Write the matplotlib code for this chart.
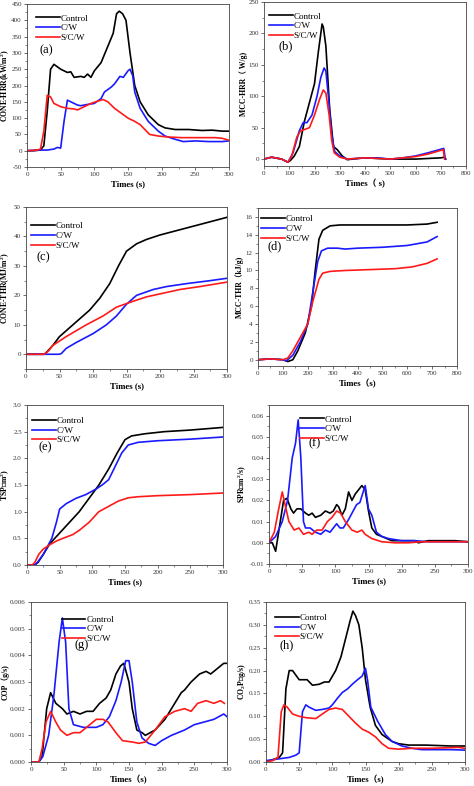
import matplotlib
matplotlib.use("Agg")
import matplotlib.pyplot as plt
from matplotlib.ticker import MultipleLocator, FormatStrFormatter, AutoMinorLocator

plt.rcParams['font.family'] = ['Liberation Serif', 'Noto Sans CJK SC']
plt.rcParams['mathtext.fontset'] = 'custom'
plt.rcParams['mathtext.rm'] = 'Liberation Serif'
plt.rcParams['mathtext.bf'] = 'Liberation Serif:bold'

W, H = 474, 786
LABELS = ['Control', 'C/W', 'S/C/W']
COLORS = ['black', '#1a1aff', '#ff1a1a']

# --- (a) CONE-HRR ---
a_ctrl_x = [0, 10, 20, 25, 30, 35, 40, 50, 60, 65, 70, 80, 85, 90, 95, 100, 110, 120, 128, 133, 137, 142, 147, 153, 160, 168, 180, 195, 205, 220, 240, 260, 275, 290, 300]
a_ctrl_y = [0, 0, 2, 15, 120, 250, 265, 250, 240, 242, 225, 228, 225, 235, 225, 245, 270, 320, 360, 420, 428, 420, 400, 300, 200, 150, 110, 80, 70, 65, 65, 62, 63, 60, 60]
a_cw_x = [0, 20, 30, 40, 45, 50, 55, 60, 65, 75, 80, 90, 100, 110, 115, 125, 130, 138, 143, 150, 153, 157, 160, 168, 180, 195, 205, 220, 232, 250, 270, 290, 300]
a_cw_y = [0, 2, 2, 5, 10, 8, 90, 155, 150, 140, 138, 142, 145, 160, 180, 195, 205, 228, 225, 245, 250, 230, 180, 130, 90, 60, 45, 35, 28, 30, 28, 28, 30]
a_scw_x = [0, 15, 20, 25, 30, 35, 40, 50, 60, 70, 75, 85, 95, 105, 113, 120, 130, 140, 150, 160, 168, 175, 182, 195, 210, 230, 260, 280, 290, 300]
a_scw_y = [0, 2, 5, 60, 170, 165, 145, 135, 130, 128, 125, 135, 145, 152, 157, 150, 130, 115, 100, 90, 80, 65, 50, 45, 42, 40, 40, 40, 38, 32]

# --- (b) MCC-HRR ---
b_ctrl_x = [0, 30, 70, 95, 105, 120, 140, 160, 180, 200, 215, 230, 235, 245, 260, 275, 290, 310, 330, 350, 400, 450, 500, 600, 700, 715, 720]
b_ctrl_y = [0, 3, 0, -5, -2, 5, 20, 60, 90, 120, 170, 215, 210, 180, 80, 20, 15, 5, -1, 0, 2, 1, 0, 0, 2, 3, 0]
b_cw_x = [0, 30, 70, 95, 115, 140, 155, 170, 190, 210, 225, 238, 245, 255, 268, 280, 300, 330, 400, 450, 500, 550, 600, 650, 712, 718]
b_cw_y = [0, 3, 0, -5, 10, 45, 58, 58, 70, 100, 130, 145, 140, 100, 40, 12, 5, 0, 2, 2, 0, 2, 5, 10, 17, 0]
b_scw_x = [0, 30, 70, 95, 110, 130, 145, 160, 180, 200, 220, 235, 245, 258, 268, 278, 300, 330, 400, 450, 500, 550, 600, 650, 710, 715]
b_scw_y = [0, 3, 0, -5, 5, 35, 45, 47, 50, 70, 95, 110, 105, 70, 30, 10, 3, 0, 2, 1, 0, 2, 4, 8, 15, 0]

# --- (c) CONE-THR ---
c_ctrl_x = [0, 27, 30, 40, 50, 70, 95, 110, 125, 138, 150, 165, 180, 200, 225, 250, 275, 300]
c_ctrl_y = [0, 0, 0.5, 3, 6, 10, 15, 19, 24, 30, 35, 37.5, 39, 40.5, 42, 43.5, 45, 46.5]
c_cw_x = [0, 50, 53, 60, 75, 100, 120, 135, 150, 165, 190, 210, 240, 275, 300]
c_cw_y = [0, 0, 0.3, 2, 4, 7, 10, 13, 17, 20, 22, 23, 24, 25, 25.8]
c_scw_x = [0, 27, 33, 40, 60, 90, 115, 135, 160, 180, 200, 230, 260, 300]
c_scw_y = [0, 0, 1, 3, 6, 10, 13, 16, 18, 19.5, 20.5, 22, 23, 24.5]

# --- (d) MCC-THR ---
d_ctrl_x = [0, 50, 100, 120, 140, 160, 190, 215, 230, 245, 260, 290, 330, 400, 500, 600, 680, 720]
d_ctrl_y = [0, 0.1, 0, -0.2, 0, 1, 3, 6, 10, 13.5, 14.5, 15, 15.1, 15.1, 15.1, 15.1, 15.2, 15.4]
d_cw_x = [0, 50, 100, 115, 140, 170, 200, 220, 240, 255, 280, 320, 350, 400, 500, 600, 680, 720]
d_cw_y = [0, 0.1, 0, -0.1, 0.5, 2, 4, 7.5, 11, 12.2, 12.5, 12.5, 12.4, 12.5, 12.6, 12.8, 13.2, 13.8]
d_scw_x = [0, 50, 100, 120, 140, 170, 200, 220, 245, 260, 290, 350, 450, 550, 620, 680, 720]
d_scw_y = [0, 0.1, 0, 0.2, 1, 2.5, 4, 6.5, 9, 9.7, 9.9, 10, 10.1, 10.2, 10.4, 10.8, 11.3]

# --- (e) TSP ---
e_ctrl_x = [0, 12, 17, 25, 35, 50, 65, 80, 95, 110, 125, 138, 150, 160, 180, 210, 250, 300]
e_ctrl_y = [0, 0, 0.05, 0.2, 0.4, 0.6, 0.8, 1.0, 1.25, 1.5, 1.8, 2.1, 2.35, 2.42, 2.46, 2.5, 2.53, 2.58]
e_cw_x = [0, 12, 16, 25, 38, 45, 50, 60, 75, 90, 105, 115, 125, 135, 145, 155, 170, 200, 250, 300]
e_cw_y = [0, 0, 0.05, 0.2, 0.5, 0.8, 1.05, 1.15, 1.25, 1.32, 1.42, 1.5, 1.6, 1.85, 2.1, 2.25, 2.3, 2.33, 2.36, 2.4]
e_scw_x = [0, 8, 12, 18, 25, 35, 45, 55, 70, 80, 95, 110, 125, 140, 155, 170, 200, 250, 300]
e_scw_y = [0, 0, 0.05, 0.2, 0.3, 0.38, 0.45, 0.5, 0.57, 0.65, 0.8, 1.0, 1.1, 1.2, 1.26, 1.28, 1.3, 1.32, 1.35]

# --- (f) SPR ---
f_ctrl_x = [0, 5, 10, 17, 22, 27, 33, 37, 42, 48, 55, 60, 65, 70, 78, 85, 92, 97, 102, 105, 110, 115, 120, 125, 130, 140, 145, 150, 155, 162, 170, 185, 200, 220, 225, 240, 260, 280, 300]
f_ctrl_y = [0, 0, -0.004, 0.01, 0.02, 0.021, 0.016, 0.014, 0.016, 0.016, 0.014, 0.013, 0.014, 0.012, 0.013, 0.015, 0.014, 0.015, 0.018, 0.017, 0.013, 0.016, 0.024, 0.020, 0.023, 0.027, 0.025, 0.015, 0.007, 0.004, 0.003, 0.001, 0.001, 0.001, 0.0, 0.001, 0.001, 0.001, 0.0005]
f_cw_x = [0, 10, 20, 28, 35, 40, 44, 48, 52, 55, 62, 70, 78, 85, 92, 102, 107, 112, 120, 132, 137, 145, 150, 155, 162, 170, 180, 200, 220, 240, 260, 280, 300]
f_cw_y = [0, 0.003, 0.01, 0.02, 0.04, 0.047, 0.058, 0.04, 0.01, 0.007, 0.007, 0.005, 0.004, 0.006, 0.005, 0.009, 0.007, 0.007, 0.011, 0.018, 0.019, 0.027, 0.016, 0.013, 0.005, 0.003, 0.002, 0.001, 0.001, 0.0005, 0.0005, 0.0005, 0.0005]
f_scw_x = [0, 8, 14, 20, 25, 30, 38, 45, 52, 60, 65, 72, 80, 88, 95, 102, 108, 115, 125, 133, 140, 145, 155, 170, 190, 210, 230, 250, 270, 290, 300]
f_scw_y = [0, 0.005, 0.015, 0.024, 0.017, 0.01, 0.006, 0.007, 0.004, 0.005, 0.004, 0.006, 0.006, 0.01, 0.012, 0.015, 0.014, 0.01, 0.006, 0.005, 0.006, 0.004, 0.002, 0.0005, 0.0, 0.0, 0.0005, 0.0005, 0.0005, 0.0005, 0.0005]

# --- (g) COP ---
g_ctrl_x = [0, 12, 17, 24, 30, 38, 48, 55, 65, 75, 85, 95, 105, 115, 122, 130, 137, 142, 150, 155, 162, 170, 175, 190, 205, 215, 230, 235, 245, 258, 268, 275, 285, 295, 300]
g_ctrl_y = [0, 0, 0.0002, 0.002, 0.0026, 0.0022, 0.002, 0.0018, 0.0019, 0.0018, 0.0019, 0.0019, 0.0022, 0.0024, 0.0027, 0.0033, 0.0036, 0.0037, 0.003, 0.002, 0.0012, 0.0011, 0.001, 0.0012, 0.0016, 0.002, 0.0026, 0.0027, 0.003, 0.0033, 0.0034, 0.0033, 0.0035, 0.0037, 0.0037]
g_cw_x = [0, 12, 18, 27, 35, 43, 48, 53, 58, 65, 80, 100, 110, 120, 130, 138, 145, 150, 155, 162, 170, 180, 190, 200, 215, 235, 250, 265, 280, 295, 300]
g_cw_y = [0, 0, 0.0002, 0.001, 0.0025, 0.0045, 0.0054, 0.0045, 0.002, 0.0014, 0.0013, 0.0013, 0.0014, 0.0017, 0.0023, 0.003, 0.0038, 0.0038, 0.003, 0.0015, 0.0009, 0.0007, 0.00062, 0.0008, 0.001, 0.0012, 0.0014, 0.0015, 0.0016, 0.0018, 0.0017]
g_scw_x = [0, 12, 17, 23, 30, 38, 45, 55, 65, 75, 85, 100, 110, 118, 130, 140, 155, 165, 175, 190, 205, 220, 235, 245, 255, 268, 280, 290, 296]
g_scw_y = [0, 0, 0.0005, 0.0015, 0.0019, 0.0015, 0.0012, 0.001, 0.0011, 0.0011, 0.0013, 0.0016, 0.0016, 0.0015, 0.0011, 0.0008, 0.00075, 0.0007, 0.00075, 0.0012, 0.0017, 0.0019, 0.002, 0.0019, 0.0022, 0.0023, 0.0022, 0.0023, 0.0022]

# --- (h) CO2P ---
h_ctrl_x = [0, 10, 20, 25, 30, 35, 40, 50, 55, 62, 70, 80, 88, 95, 105, 113, 120, 127, 131, 135, 140, 145, 150, 157, 165, 175, 190, 200, 215, 240, 260, 280, 300]
h_ctrl_y = [0, 0.005, 0.01, 0.02, 0.16, 0.2, 0.2, 0.18, 0.18, 0.18, 0.168, 0.17, 0.175, 0.175, 0.2, 0.23, 0.27, 0.31, 0.33, 0.32, 0.3, 0.25, 0.18, 0.12, 0.08, 0.06, 0.045, 0.04, 0.037, 0.037, 0.036, 0.035, 0.035]
h_cw_x = [0, 10, 25, 35, 45, 50, 55, 60, 65, 75, 85, 95, 100, 108, 115, 123, 130, 138, 145, 150, 153, 158, 168, 180, 190, 205, 220, 235, 260, 280, 300]
h_cw_y = [0.003, 0.005, 0.008, 0.01, 0.015, 0.02, 0.11, 0.125, 0.12, 0.113, 0.115, 0.118, 0.125, 0.14, 0.152, 0.16, 0.17, 0.18, 0.188, 0.205, 0.18, 0.12, 0.09, 0.06, 0.045, 0.035, 0.03, 0.027, 0.027, 0.027, 0.026]
h_scw_x = [0, 10, 18, 23, 27, 32, 40, 50, 60, 75, 85, 95, 105, 115, 125, 135, 145, 155, 165, 175, 185, 200, 220, 250, 270, 290, 300]
h_scw_y = [0, 0.003, 0.01, 0.11, 0.125, 0.12, 0.105, 0.1, 0.097, 0.095, 0.105, 0.115, 0.118, 0.115, 0.1, 0.085, 0.072, 0.065, 0.055, 0.04, 0.03, 0.028, 0.03, 0.03, 0.031, 0.032, 0.03]

# panel specs: pixel box (x0, x1, ytop, ybottom), y-label right edge in px
panels = [
    dict(tag='(a)', box=(27, 229, 4, 167), ylx=12, xlim=(0, 300), xstep=50, ylim=(-50, 450), ystep=50, yfmt='%d',
         ylabel='CONE-HRR(kW/m$^\\mathbf{2}$)', xlabel='Times (s)',
         data=[(a_ctrl_x, a_ctrl_y), (a_cw_x, a_cw_y), (a_scw_x, a_scw_y)],
         leg=(0.02, 0.97), tagpos=(0.06, 0.70)),
    dict(tag='(b)', box=(264, 466, 2, 166), ylx=248, xlim=(0, 800), xstep=100, ylim=(-11, 250), ystep=50, yfmt='%d',
         ylabel='MCC-HRR（ W/g)', xlabel='Times（ s)',
         data=[(b_ctrl_x, b_ctrl_y), (b_cw_x, b_cw_y), (b_scw_x, b_scw_y)],
         leg=(0.0, 0.97), tagpos=(0.07, 0.71)),
    dict(tag='(c)', box=(26, 227, 207, 369), ylx=12.5, xlim=(0, 300), xstep=50, ylim=(-5, 50), ystep=10, yfmt='%d',
         ylabel='CONE-THR(MJ/m$^\\mathbf{2}$)', xlabel='Times (s)',
         data=[(c_ctrl_x, c_ctrl_y), (c_cw_x, c_cw_y), (c_scw_x, c_scw_y)],
         leg=(0.0, 0.94), tagpos=(0.05, 0.67)),
    dict(tag='(d)', box=(258, 457, 208, 366), ylx=244, xlim=(0, 800), xstep=100, ylim=(-0.7, 17), ystep=2, yfmt='%d',
         ylabel='MCC-THR（kJ/g)', xlabel='Times（s)',
         data=[(d_ctrl_x, d_ctrl_y), (d_cw_x, d_cw_y), (d_scw_x, d_scw_y)],
         leg=(-0.01, 0.99), tagpos=(0.05, 0.74)),
    dict(tag='(e)', box=(27, 223, 405, 565), ylx=12.5, xlim=(0, 300), xstep=50, ylim=(0, 3.0), ystep=0.5, yfmt='%.1f',
         ylabel='TSP（m$^\\mathbf{2}$)', xlabel='Times (s)',
         data=[(e_ctrl_x, e_ctrl_y), (e_cw_x, e_cw_y), (e_scw_x, e_scw_y)],
         leg=(0.0, 0.96), tagpos=(0.06, 0.72)),
    dict(tag='(f)', box=(269, 468, 405, 564), ylx=249, xlim=(0, 300), xstep=50, ylim=(-0.01, 0.065), ystep=0.01, yfmt='%.2f',
         ylabel='SPR（m$^\\mathbf{2}$/s)', xlabel='Times (s)',
         data=[(f_ctrl_x, f_ctrl_y), (f_cw_x, f_cw_y), (f_scw_x, f_scw_y)],
         leg=(0.13, 0.97), tagpos=(0.2, 0.74)),
    dict(tag='(g)', box=(31, 227, 602, 762), ylx=10, xlim=(0, 300), xstep=50, ylim=(0, 0.006), ystep=0.001, yfmt='%.3f',
         ylabel='COP（g/s)', xlabel='Times（s)',
         data=[(g_ctrl_x, g_ctrl_y), (g_cw_x, g_cw_y), (g_scw_x, g_scw_y)],
         leg=(0.13, 0.95), tagpos=(0.22, 0.71)),
    dict(tag='(h)', box=(266, 465, 602, 762), ylx=248, xlim=(0, 300), xstep=50, ylim=(0, 0.35), ystep=0.05, yfmt='%.2f',
         ylabel='CO$_\\mathbf{2}$P（g/s)', xlabel='Times（s)',
         data=[(h_ctrl_x, h_ctrl_y), (h_cw_x, h_cw_y), (h_scw_x, h_scw_y)],
         leg=(0.02, 0.96), tagpos=(0.07, 0.71)),
]

fig = plt.figure(figsize=(W / 100, H / 100), dpi=100)

for p in panels:
    x0, x1, yt, yb = p['box']
    ax = fig.add_axes([x0 / W, (H - yb) / H, (x1 - x0) / W, (yb - yt) / H])
    for (xs, ys), lab, col in zip(p['data'], LABELS, COLORS):
        ax.plot(xs, ys, color=col, lw=1.2, label=lab)
    ax.set_xlim(*p['xlim'])
    ax.set_ylim(*p['ylim'])
    ax.xaxis.set_major_locator(MultipleLocator(p['xstep']))
    ax.yaxis.set_major_locator(MultipleLocator(p['ystep']))
    ax.xaxis.set_minor_locator(AutoMinorLocator(2))
    ax.yaxis.set_minor_locator(AutoMinorLocator(2))
    ax.yaxis.set_major_formatter(FormatStrFormatter(p['yfmt']))
    ax.tick_params(which='major', labelsize=5, length=2.2, width=0.5, pad=1.5, colors='#333333')
    ax.tick_params(which='minor', length=1.2, width=0.4, colors='#333333')
    for s in ax.spines.values():
        s.set_linewidth(0.6)
        s.set_color('#444444')
    ax.set_xlabel(p['xlabel'], fontsize=6.3, fontweight='bold', labelpad=2)
    ax.set_ylabel(p['ylabel'], fontsize=5.6, fontweight='bold')
    ax.yaxis.set_label_coords((p['ylx'] - x0) / (x1 - x0), 0.5)
    ax.legend(loc='upper left', bbox_to_anchor=p['leg'], frameon=False, fontsize=6.5,
              handlelength=2.6, handletextpad=0.1, labelspacing=0.15, borderaxespad=0.2)
    ax.text(p['tagpos'][0], p['tagpos'][1], p['tag'], transform=ax.transAxes, fontsize=9)

fig.savefig('out.png', dpi=100)
